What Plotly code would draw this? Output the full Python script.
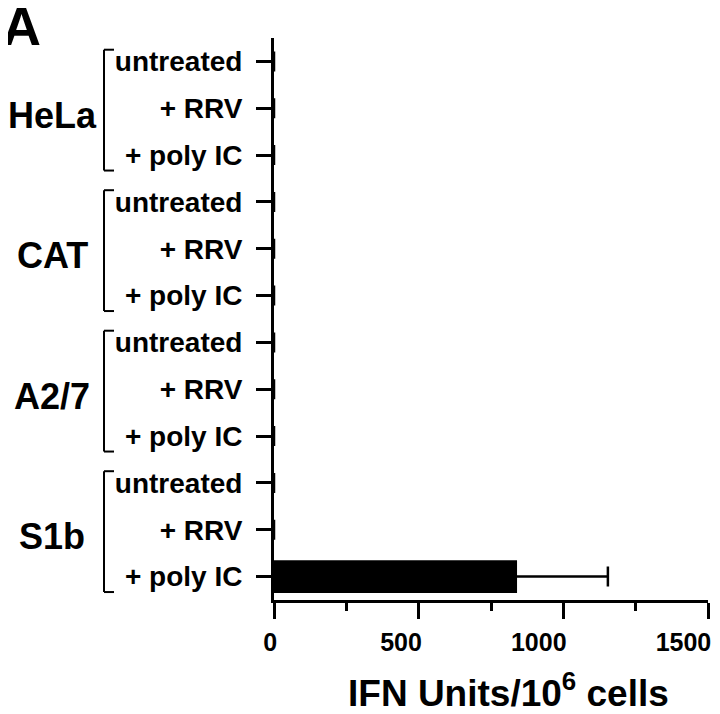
"""
IFN production bar chart (panel A)
"""

import plotly.graph_objects as go

# data
cell_lines = ["HeLa", "CAT", "A2/7", "S1b"]
treatments = ["untreated", "+ RRV", "+ poly IC"]
ifn_units = [0, 0, 0, 0, 0, 0, 0, 0, 0, 0, 0, 840]
ifn_err = [0, 0, 0, 0, 0, 0, 0, 0, 0, 0, 0, 314]
x_ticks = [0, 500, 1000, 1500]

FONT = "Liberation Sans, Arial, Helvetica, sans-serif"

# page body has an 8px margin, so work in page pixels and shift back
OFF = 8
W, H = 720 - OFF, 714 - OFF
L, R, T, B = 274 - OFF, 708 - OFF, 38 - OFF, 600 - OFF


def px_x(p):
    return (p - OFF - L) / (R - L)


def px_y(p):
    return (B - (p - OFF)) / (B - T)


row_labels = treatments * len(cell_lines)
rows = list(range(len(row_labels)))

fig = go.Figure()
fig.add_trace(go.Bar(
    x=ifn_units,
    y=rows,
    orientation="h",
    width=0.7,
    marker=dict(color="black", line=dict(width=0)),
    error_x=dict(type="data", array=ifn_err, visible=True,
                 color="black", thickness=2.5, width=10),
    showlegend=False,
))

# group brackets and cell line names
n = len(treatments)
for g, name in enumerate(cell_lines):
    first = g * n
    last = first + n - 1
    top = first - 0.25
    bot = last + 0.33
    x0 = px_x(104)
    x1 = px_x(114)
    for xa, ya, xb, yb in [(x0, top, x0, bot), (x0, top, x1, top), (x0, bot, x1, bot)]:
        fig.add_shape(type="line", xref="paper", yref="y",
                      x0=xa, y0=ya, x1=xb, y1=yb,
                      line=dict(color="black", width=2))
    fig.add_annotation(
        x=px_x(52), y=first + 1.15, xref="paper", yref="y",
        text=name, showarrow=False, xanchor="center", yanchor="middle",
        font=dict(family=FONT, size=36, color="black", weight="bold"),
    )

# panel letter
fig.add_annotation(
    x=px_x(0), y=px_y(-6), xref="paper", yref="paper", text="A",
    showarrow=False, xanchor="left", yanchor="top",
    font=dict(family=FONT, size=54, color="black", weight="bold"),
)

# x axis title placed as annotation
fig.add_annotation(
    x=px_x(508), y=px_y(690), xref="paper", yref="paper",
    text="IFN Units/10<sup>6</sup> cells", showarrow=False,
    xanchor="center", yanchor="middle",
    font=dict(family=FONT, size=37, color="black", weight="bold"),
)

fig.update_layout(
    width=W,
    height=H,
    margin=dict(l=L, r=W - R, t=T, b=H - B, autoexpand=False),
    paper_bgcolor="white",
    plot_bgcolor="white",
)
fig.update_xaxes(
    range=[0, 1500],
    tickvals=x_ticks,
    ticktext=[str(v) for v in x_ticks],
    automargin=False,
    showgrid=False,
    zeroline=False,
    showline=True,
    linecolor="black",
    linewidth=3,
    ticks="outside",
    ticklen=16,
    tickwidth=2.5,
    tickcolor="black",
    ticklabelposition="outside left",
    ticklabelshift=6,
    ticklabelstandoff=18,
    tickfont=dict(family=FONT, size=25, color="black", weight="bold"),
    minor=dict(ticks="outside", ticklen=8, tickwidth=2.5, tickcolor="black",
               dtick=250, showgrid=False),
)
fig.update_yaxes(
    range=[len(rows) - 0.5, -0.5],
    tickvals=rows,
    ticktext=row_labels,
    automargin=False,
    showgrid=False,
    zeroline=False,
    showline=True,
    linecolor="black",
    linewidth=3,
    ticks="outside",
    ticklen=15,
    tickwidth=2.5,
    tickcolor="black",
    ticklabelstandoff=8,
    tickfont=dict(family=FONT, size=28, color="black", weight="bold"),
)

fig.write_html("out.html")
